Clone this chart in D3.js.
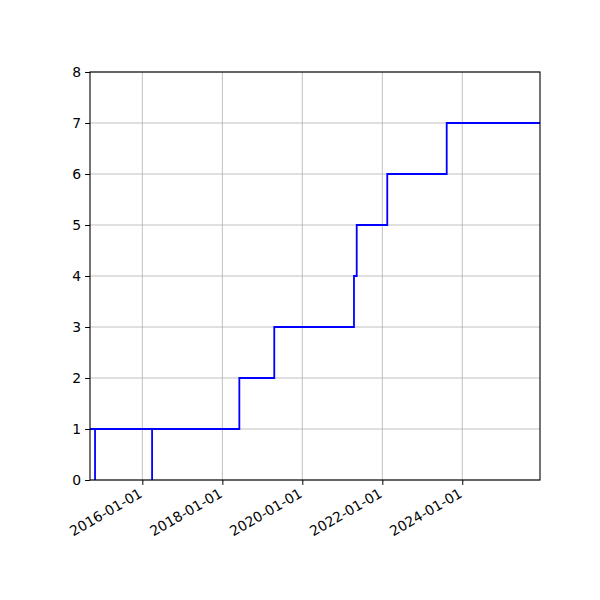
<!DOCTYPE html>
<html lang="en">
<head>
  <meta charset="UTF-8">
  <title>Step chart</title>
  <script src="https://d3js.org/d3.v7.min.js"></script>
  <style>
    body { margin: 0; background: white; }
    svg text { font-family: "DejaVu Sans", sans-serif; font-size: 13.9px; fill: black; }
  </style>
</head>
<body>
<svg class="chart" width="600" height="600"></svg>
<script>
  // values
  const dates = ["2014-09-10", "2014-10-26", "2014-10-26", "2016-03-30", "2016-03-30",
    "2018-06-05", "2019-04-20", "2021-04-17", "2021-05-12", "2022-02-15",
    "2023-08-12", "2025-12-11"];
  const counts = [1, 0, 1, 0, 1, 2, 3, 4, 5, 6, 7, 7];
  const xTicks = ["2016-01-01", "2018-01-01", "2020-01-01", "2022-01-01", "2024-01-01"];
  const yTicks = [0, 1, 2, 3, 4, 5, 6, 7, 8];

  const parse = d3.timeParse("%Y-%m-%d");
  const data = dates.map((d, i) => ({ date: parse(d), value: counts[i] }));

  const mLeft = 90, mRight = 540, mTop = 72, mBottom = 480;
  const svg = d3.select("svg.chart");

  const x = d3.scaleTime()
    .domain(d3.extent(data, d => d.date))
    .range([mLeft, mRight]);
  const y = d3.scaleLinear().domain([0, 8]).range([mBottom, mTop]);

  // grid
  const grid = svg.append("g");
  xTicks.forEach(t => {
    grid.append("line")
      .attr("x1", x(parse(t))).attr("x2", x(parse(t)))
      .attr("y1", mTop).attr("y2", mBottom)
      .attr("stroke", "#b0b0b0").attr("stroke-width", 0.8);
  });
  yTicks.forEach(t => {
    grid.append("line")
      .attr("x1", mLeft).attr("x2", mRight)
      .attr("y1", y(t)).attr("y2", y(t))
      .attr("stroke", "#b0b0b0").attr("stroke-width", 0.8);
  });

  svg.append("clipPath").attr("id", "clip")
    .append("rect").attr("x", mLeft).attr("y", mTop)
    .attr("width", mRight - mLeft).attr("height", mBottom - mTop);

  const line = d3.line()
    .x(d => x(d.date))
    .y(d => y(d.value))
    .curve(d3.curveStepAfter);

  svg.append("path")
    .datum(data)
    .attr("clip-path", "url(#clip)")
    .attr("d", line)
    .attr("fill", "none")
    .attr("stroke", "blue")
    .attr("stroke-width", 1.8);

  // axes
  const xAxis = d3.axisBottom(x)
    .tickValues(xTicks.map(parse))
    .tickFormat(d3.timeFormat("%Y-%m-%d"))
    .tickSize(4.9).tickPadding(3);
  const gx = svg.append("g").attr("transform", `translate(0,${mBottom})`).call(xAxis);
  gx.select(".domain").remove();
  gx.selectAll(".tick line").attr("stroke", "black").attr("stroke-width", 1);
  gx.selectAll(".tick text")
    .attr("text-anchor", "end")
    .attr("font-size", null)
    .attr("font-family", null)
    .attr("dy", "0.35em")
    .attr("transform", "translate(-2,12) rotate(-30)")
    .attr("y", 0).attr("x", 0);

  const yAxis = d3.axisLeft(y).tickValues(yTicks).tickSize(4.9).tickPadding(4);
  const gy = svg.append("g").attr("transform", `translate(${mLeft},0)`).call(yAxis);
  gy.select(".domain").remove();
  gy.selectAll(".tick line").attr("stroke", "black").attr("stroke-width", 1);
  gy.selectAll(".tick text").attr("font-size", null).attr("font-family", null);

  svg.append("rect")
    .attr("x", mLeft).attr("y", mTop)
    .attr("width", mRight - mLeft).attr("height", mBottom - mTop)
    .attr("fill", "none").attr("stroke", "black").attr("stroke-width", 1.1);
</script>
</body>
</html>
